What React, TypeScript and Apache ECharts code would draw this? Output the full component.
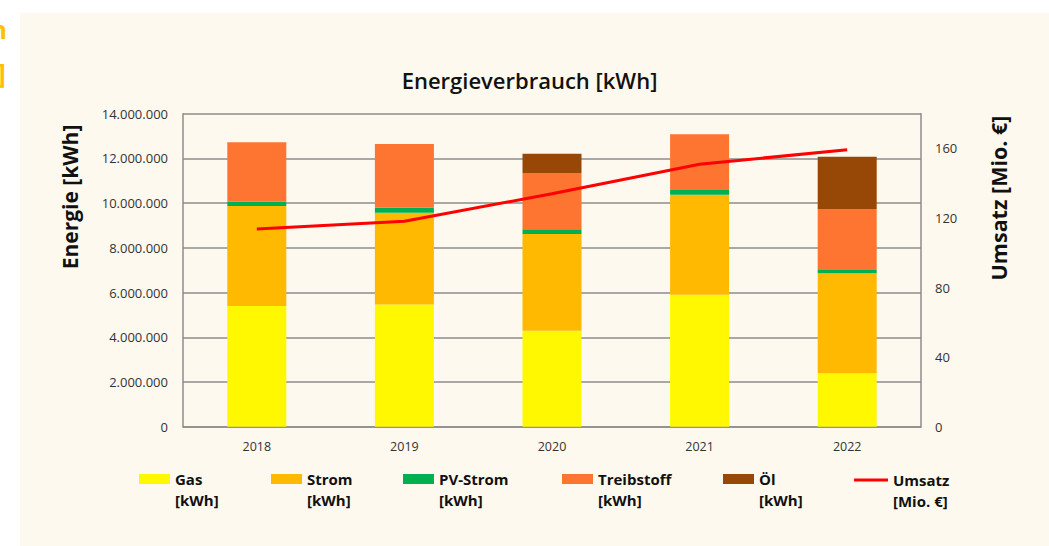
import React, { useEffect, useRef } from "react";
import * as echarts from "echarts";

const categories = ["2018", "2019", "2020", "2021", "2022"];
const gas = [5400000, 5470000, 4290000, 5900000, 2390000];
const strom = [4470000, 4100000, 4330000, 4470000, 4470000];
const pvStrom = [190000, 220000, 210000, 220000, 150000];
const treibstoff = [2660000, 2850000, 2520000, 2490000, 2730000];
const oel = [0, 0, 860000, 0, 2330000];
const umsatz = [113.7, 118.1, 134, 150.9, 159.3];

const seriesNames = ["Gas", "Strom", "PV-Strom", "Treibstoff", "Öl", "Umsatz"];
const seriesUnits = ["[kWh]", "[kWh]", "[kWh]", "[kWh]", "[kWh]", "[Mio. €]"];
const seriesColors = ["#FFF800", "#FFB900", "#00B050", "#FD7531", "#974706", "#FF0000"];
const titleText = "Energieverbrauch [kWh]";
const leftAxisName = "Energie [kWh]";
const rightAxisName = "Umsatz [Mio. €]";

const FONT = "'Open Sans', 'Noto Sans', sans-serif";
const AXIS_COLOR = "#8C8C8C";

function fmtThousands(v: number): string {
  return String(Math.round(v)).replace(/\B(?=(\d{3})+(?!\d))/g, ".");
}

export default function App() {
  const ref = useRef<HTMLDivElement>(null);
  useEffect(() => {
    if (!ref.current) return;
    const chart = echarts.init(ref.current, null, { renderer: "svg" });
    const barData = [gas, strom, pvStrom, treibstoff, oel];
    const legendX = [139, 271, 403, 562, 723, 854];

    const legends = seriesNames.map((name, i) => {
      const isLine = i === 5;
      return {
        data: [{ name, icon: "rect" }],
        left: legendX[i],
        top: isLine ? 448.5 : 447.5,
        padding: 0,
        itemWidth: isLine ? 34 : 31,
        itemHeight: isLine ? 3 : 10,
        selectedMode: false,
        formatter: (n: string) => "\n" + n + "\n" + seriesUnits[i],
        textStyle: {
          fontFamily: FONT,
          fontWeight: "bold",
          fontSize: 15,
          lineHeight: 21,
          color: "#111",
        },
      };
    });

    const series: any[] = barData.map((d, i) => ({
      name: seriesNames[i],
      type: "bar",
      stack: "energie",
      barWidth: 59,
      data: d,
      itemStyle: { color: seriesColors[i] },
    }));
    series.push({
      name: seriesNames[5],
      type: "line",
      yAxisIndex: 1,
      data: umsatz,
      symbol: "none",
      lineStyle: { color: seriesColors[5], width: 3 },
      itemStyle: { color: seriesColors[5] },
    });

    chart.setOption({
      animation: false,
      backgroundColor: "transparent",
      grid: { left: 183, right: 128, top: 113.7, bottom: 119.3 },
      legend: legends,
      xAxis: {
        type: "category",
        data: categories,
        axisTick: { show: false },
        axisLine: { lineStyle: { color: AXIS_COLOR, width: 1.5 } },
        axisLabel: { color: "#333", fontFamily: FONT, fontSize: 12.5, margin: 13 },
      },
      yAxis: [
        {
          type: "value",
          min: 0,
          max: 14000000,
          interval: 2000000,
          axisLine: { show: true, lineStyle: { color: AXIS_COLOR, width: 1.5 } },
          axisTick: { show: false },
          splitLine: { lineStyle: { color: AXIS_COLOR, width: 1.5 } },
          axisLabel: {
            color: "#333",
            fontFamily: FONT,
            fontSize: 13,
            margin: 15,
            formatter: (v: number) => fmtThousands(v),
          },
        },
        {
          type: "value",
          position: "right",
          min: 0,
          max: 180,
          interval: 40,
          axisLine: { show: true, lineStyle: { color: AXIS_COLOR, width: 1.5 } },
          axisTick: { show: false },
          splitLine: { show: false },
          axisLabel: {
            color: "#333",
            fontFamily: FONT,
            fontSize: 13,
            margin: 14,
            showMaxLabel: false,
          },
        },
      ],
      graphic: [
        {
          type: "text",
          x: 529.5,
          y: 80,
          style: {
            text: titleText,
            align: "center",
            verticalAlign: "middle",
            fontFamily: FONT,
            fontWeight: 600,
            fontSize: 22,
            fill: "#111",
          },
        },
        {
          type: "text",
          x: 70,
          y: 197,
          rotation: Math.PI / 2,
          style: {
            text: leftAxisName,
            align: "center",
            verticalAlign: "middle",
            fontFamily: FONT,
            fontWeight: "bold",
            fontSize: 21,
            fill: "#111",
          },
        },
        {
          type: "text",
          x: 998,
          y: 198,
          rotation: Math.PI / 2,
          style: {
            text: rightAxisName,
            align: "center",
            verticalAlign: "middle",
            fontFamily: FONT,
            fontWeight: "bold",
            fontSize: 21.5,
            fill: "#111",
          },
        },
        {
          type: "text",
          x: 7,
          y: 29,
          style: {
            text: "n",
            align: "right",
            verticalAlign: "middle",
            fontFamily: FONT,
            fontWeight: "bold",
            fontSize: 25,
            fill: "#FFC000",
          },
        },
        {
          type: "text",
          x: 6,
          y: 72,
          style: {
            text: "]",
            align: "right",
            verticalAlign: "middle",
            fontFamily: FONT,
            fontWeight: "bold",
            fontSize: 27,
            fill: "#FFC000",
          },
        },
      ],
      series,
    });
    return () => chart.dispose();
  }, []);

  return (
    <div style={{ position: "fixed", left: 0, top: 0, width: 1049, height: 546, background: "#FFFFFF" }}>
      <div style={{ position: "absolute", left: 20, top: 13, right: 0, bottom: 0, background: "#FEF9EF" }} />
      <div ref={ref} style={{ position: "absolute", left: 0, top: 0, width: 1049, height: 546 }} />
    </div>
  );
}
